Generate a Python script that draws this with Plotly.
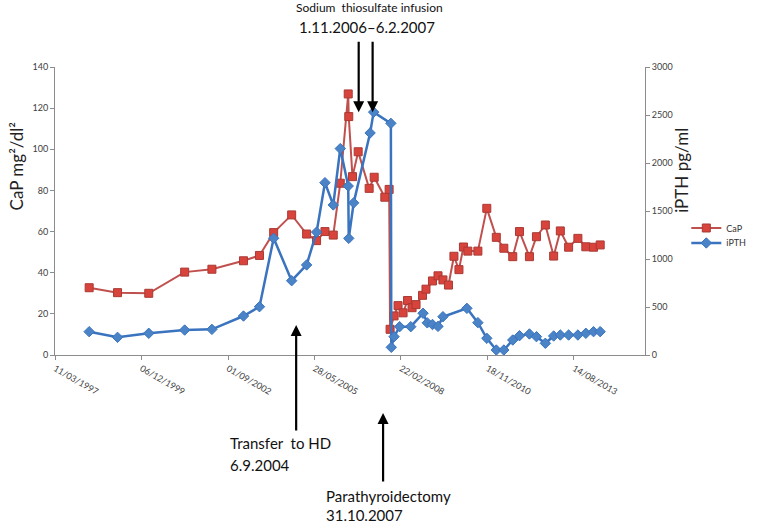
import plotly.graph_objects as go
import pandas as pd

# ---------------- data ----------------
cap_dates = [
    "1998-04-10", "1999-03-04", "2000-02-28", "2001-04-18", "2002-02-27", "2003-02-27",
    "2003-08-31", "2004-02-11", "2004-09-06", "2005-02-26", "2005-06-21", "2005-09-26",
    "2005-12-31", "2006-03-22", "2006-06-22", "2006-06-28", "2006-08-10", "2006-10-15",
    "2007-02-19", "2007-04-18", "2007-08-19", "2007-10-08", "2007-10-19", "2007-12-04",
    "2008-01-19", "2008-03-17", "2008-05-08", "2008-06-29", "2008-08-14", "2008-10-28",
    "2008-12-07", "2009-02-20", "2009-04-25", "2009-06-21", "2009-08-24", "2009-10-26",
    "2009-12-23", "2010-02-13", "2010-04-05", "2010-07-30", "2010-11-10", "2011-02-28",
    "2011-05-26", "2011-09-06", "2011-11-23", "2012-03-17", "2012-06-06", "2012-09-17",
    "2012-12-22", "2013-03-09", "2013-06-13", "2013-09-28", "2013-12-29", "2014-03-28",
    "2014-06-13",
]
cap_values = [
    32.7, 30.3, 30.0, 40.3, 41.7, 45.8,
    48.4, 59.5, 68.1, 58.8, 55.6, 60.0,
    58.3, 83.5, 126.9, 115.9, 86.7, 98.8,
    81.0, 86.4, 76.7, 80.5, 12.5, 19.0,
    24.0, 20.5, 26.5, 23.0, 24.5, 29.0,
    32.0, 36.0, 38.5, 36.5, 34.0, 48.0,
    41.5, 52.5, 50.5, 50.5, 71.3, 57.2,
    51.9, 47.8, 60.0, 47.8, 57.5, 63.2,
    48.1, 60.3, 52.4, 56.7, 52.6, 52.4,
    53.5,
]

pth_dates = [
    "1998-04-10", "1999-03-04", "2000-02-28", "2001-04-18", "2002-02-27", "2003-02-27",
    "2003-08-31", "2004-02-11", "2004-09-06", "2005-02-26", "2005-06-21", "2005-09-26",
    "2005-12-31", "2006-03-22", "2006-06-22", "2006-06-28", "2006-08-24", "2007-03-02",
    "2007-04-12", "2007-10-28", "2007-11-02", "2007-12-04", "2008-02-06", "2008-06-14",
    "2008-11-03", "2008-12-22", "2009-02-20", "2009-04-25", "2009-06-21", "2010-03-25",
    "2010-07-30", "2010-11-10", "2011-02-28", "2011-05-26", "2011-09-06", "2011-11-23",
    "2012-03-17", "2012-06-06", "2012-09-17", "2012-12-22", "2013-03-09", "2013-06-13",
    "2013-09-28", "2013-12-29", "2014-03-28", "2014-06-13",
]
pth_values = [
    243, 184, 226, 260, 267, 406,
    503, 1216, 774, 938, 1280, 1795,
    1563, 2150, 1760, 1215, 1585, 2313,
    2530, 2413, 80, 191, 295, 295,
    435, 335, 318, 298, 399, 486,
    337, 174, 52, 52, 156, 201,
    219, 191, 122, 198, 208, 208,
    208, 226, 243, 243,
]

x_tick_labels = ["11/03/1997", "06/12/1999", "01/09/2002", "28/05/2005",
                 "22/02/2008", "18/11/2010", "14/08/2013"]
x_range = ["1997-03-11", "2015-11-13"]
left_ticks = [0, 20, 40, 60, 80, 100, 120, 140]
right_ticks = [0, 500, 1000, 1500, 2000, 2500, 3000]

thio_arrow_dates = ["2006-10-21", "2007-03-31"]
transfer_arrow_date = "2004-10-28"
ptx_arrow_date = "2007-07-30"

# ---------------- figure ----------------
FONT = "Lato, Carlito, 'Open Sans', sans-serif"
AXIS_GREY = "#8c8c8c"
TICK_FONT = dict(family=FONT, size=9, color="#404040")

tick_dates = pd.to_datetime(x_tick_labels, format="%d/%m/%Y")

fig = go.Figure()
fig.add_trace(go.Scatter(
    x=cap_dates, y=cap_values, name="CaP", mode="lines+markers", legend="legend",
    line=dict(color="#C0504D", width=2),
    marker=dict(symbol="square", size=8, color="#D8433C",
                line=dict(color="#A93A34", width=1)),
))
fig.add_trace(go.Scatter(
    x=pth_dates, y=pth_values, name="iPTH", mode="lines+markers", yaxis="y2",
    legend="legend2",
    line=dict(color="#3A73BE", width=2.5),
    marker=dict(symbol="diamond", size=8, color="#4A84C6",
                line=dict(color="#3A73BE", width=1)),
))

legend_common = dict(xanchor="left", yanchor="middle",
                     font=dict(family=FONT, size=9, color="#333333"),
                     bgcolor="rgba(0,0,0,0)", itemwidth=30)

fig.update_layout(
    width=761, height=529,
    margin=dict(l=55, r=116, t=67, b=174, autoexpand=False),
    paper_bgcolor="white", plot_bgcolor="white",
    font=dict(family=FONT, color="#222222"),
    showlegend=True,
    legend=dict(x=1.07, y=0.441, **legend_common),
    legend2=dict(x=1.07, y=0.389, **legend_common),
    xaxis=dict(
        type="date", range=x_range, automargin=False,
        tickvals=tick_dates, ticktext=x_tick_labels, tickangle=30,
        ticks="outside", ticklen=4, tickcolor=AXIS_GREY,
        showline=True, linecolor=AXIS_GREY, linewidth=1,
        showgrid=False, zeroline=False, tickfont=TICK_FONT,
    ),
    yaxis=dict(
        range=[0, 140], tickvals=left_ticks, automargin=False,
        ticks="outside", ticklen=4, tickcolor=AXIS_GREY,
        showline=True, linecolor=AXIS_GREY, linewidth=1,
        showgrid=False, zeroline=False, tickfont=TICK_FONT,
    ),
    yaxis2=dict(
        range=[0, 3000], tickvals=right_ticks, overlaying="y", side="right",
        automargin=False,
        ticks="outside", ticklen=4, tickcolor=AXIS_GREY,
        showline=True, linecolor=AXIS_GREY, linewidth=1,
        showgrid=False, zeroline=False, tickfont=TICK_FONT,
    ),
)

ann = []
# axis titles
ann.append(dict(text="CaP mg²/dl²", xref="paper", yref="paper", x=-0.066, y=0.655,
                xanchor="center", yanchor="middle",
                showarrow=False, textangle=-90, font=dict(family=FONT, size=17, color="#222")))
ann.append(dict(text="iPTH pg/ml", xref="paper", yref="paper", x=1.063, y=0.64,
                xanchor="center", yanchor="middle",
                showarrow=False, textangle=-90, font=dict(family=FONT, size=17, color="#222")))
# sodium thiosulfate label
ann.append(dict(text="Sodium  thiosulfate infusion", xref="paper", yref="paper",
                x=0.405, y=1.205, xanchor="left", yanchor="middle", showarrow=False,
                font=dict(family=FONT, size=12, color="#111")))
ann.append(dict(text="1.11.2006–6.2.2007", xref="paper", yref="paper",
                x=0.410, y=1.138, xanchor="left", yanchor="middle", showarrow=False,
                font=dict(family=FONT, size=15, color="#111")))
for d in thio_arrow_dates:
    ann.append(dict(text="", xref="x", yref="paper", x=d, y=0.843,
                    ax=0, ay=-72, showarrow=True, arrowhead=2, arrowsize=1,
                    arrowwidth=2.2, arrowcolor="black", standoff=0))
# transfer to HD
ann.append(dict(text="", xref="x", yref="paper", x=transfer_arrow_date, y=0.104,
                ax=0, ay=107, showarrow=True, arrowhead=2, arrowsize=1,
                arrowwidth=2.2, arrowcolor="black", standoff=0))
ann.append(dict(text="Transfer  to HD", xref="paper", yref="paper",
                x=0.293, y=-0.305, xanchor="left", yanchor="middle", showarrow=False,
                font=dict(family=FONT, size=15, color="#111")))
ann.append(dict(text="6.9.2004", xref="paper", yref="paper",
                x=0.293, y=-0.382, xanchor="left", yanchor="middle", showarrow=False,
                font=dict(family=FONT, size=15, color="#111")))
# parathyroidectomy
ann.append(dict(text="", xref="x", yref="paper", x=ptx_arrow_date, y=-0.201,
                ax=0, ay=70, showarrow=True, arrowhead=2, arrowsize=1,
                arrowwidth=2.2, arrowcolor="black", standoff=0))
ann.append(dict(text="Parathyroidectomy", xref="paper", yref="paper",
                x=0.456, y=-0.49, xanchor="left", yanchor="middle", showarrow=False,
                font=dict(family=FONT, size=15, color="#111")))
ann.append(dict(text="31.10.2007", xref="paper", yref="paper",
                x=0.456, y=-0.557, xanchor="left", yanchor="middle", showarrow=False,
                font=dict(family=FONT, size=15, color="#111")))
fig.update_layout(annotations=ann)

# remove the browser's default 8px body margin so the figure fills the window
fig.write_html("out.html", config={"displayModeBar": False},
               post_script="document.body.style.margin='0';")
